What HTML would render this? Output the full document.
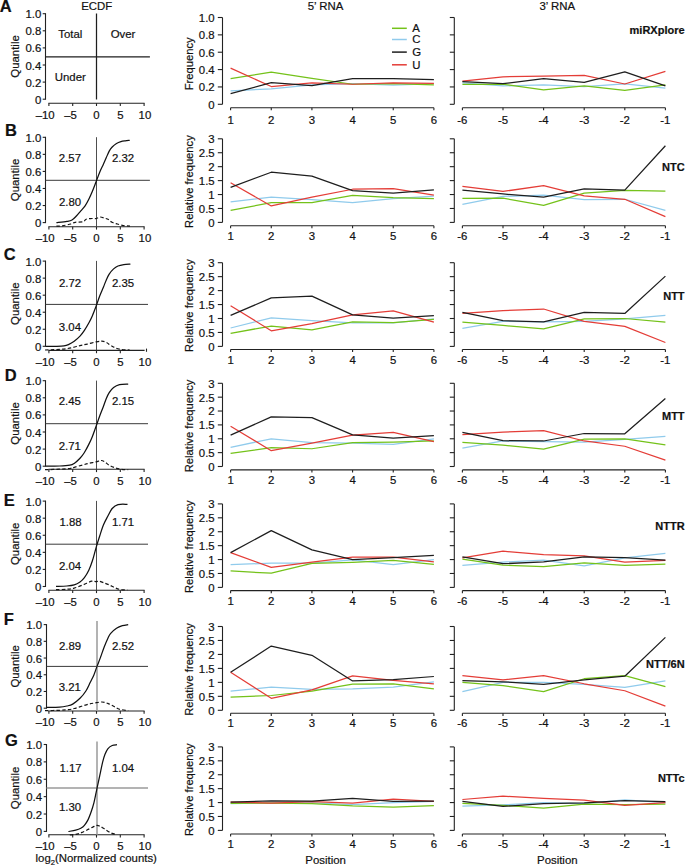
<!DOCTYPE html>
<html><head><meta charset="utf-8"><style>
html,body{margin:0;padding:0;background:#fff;}
svg{display:block;}
text{font-family:"Liberation Sans", sans-serif;fill:#111;stroke:#111;stroke-width:0.2px;}
</style></head><body>
<svg width="685" height="866" viewBox="0 0 685 866">
<rect width="685" height="866" fill="#fff"/>
<line x1="45.50" y1="13.20" x2="45.50" y2="99.70" stroke="#222222" stroke-width="1.1" />
<line x1="42.70" y1="99.20" x2="45.50" y2="99.20" stroke="#222222" stroke-width="1.1" />
<text x="41.30" y="103.70" font-size="11.4" text-anchor="end" font-weight="normal" >0</text>
<line x1="42.70" y1="82.10" x2="45.50" y2="82.10" stroke="#222222" stroke-width="1.1" />
<text x="41.30" y="86.60" font-size="11.4" text-anchor="end" font-weight="normal" >0.2</text>
<line x1="42.70" y1="65.00" x2="45.50" y2="65.00" stroke="#222222" stroke-width="1.1" />
<text x="41.30" y="69.50" font-size="11.4" text-anchor="end" font-weight="normal" >0.4</text>
<line x1="42.70" y1="47.90" x2="45.50" y2="47.90" stroke="#222222" stroke-width="1.1" />
<text x="41.30" y="52.40" font-size="11.4" text-anchor="end" font-weight="normal" >0.6</text>
<line x1="42.70" y1="30.80" x2="45.50" y2="30.80" stroke="#222222" stroke-width="1.1" />
<text x="41.30" y="35.30" font-size="11.4" text-anchor="end" font-weight="normal" >0.8</text>
<line x1="42.70" y1="13.70" x2="45.50" y2="13.70" stroke="#222222" stroke-width="1.1" />
<text x="41.30" y="18.20" font-size="11.4" text-anchor="end" font-weight="normal" >1.0</text>
<line x1="48.40" y1="103.20" x2="144.60" y2="103.20" stroke="#222222" stroke-width="1.1" />
<line x1="48.90" y1="103.20" x2="48.90" y2="106.00" stroke="#222222" stroke-width="1.1" />
<text x="54.70" y="119.10" font-size="11.4" text-anchor="end" font-weight="normal" >&#8211;10</text>
<line x1="72.70" y1="103.20" x2="72.70" y2="106.00" stroke="#222222" stroke-width="1.1" />
<text x="76.90" y="119.10" font-size="11.4" text-anchor="end" font-weight="normal" >&#8211;5</text>
<line x1="96.50" y1="103.20" x2="96.50" y2="106.00" stroke="#222222" stroke-width="1.1" />
<text x="96.50" y="119.10" font-size="11.4" text-anchor="middle" font-weight="normal" >0</text>
<line x1="120.30" y1="103.20" x2="120.30" y2="106.00" stroke="#222222" stroke-width="1.1" />
<text x="120.30" y="119.10" font-size="11.4" text-anchor="middle" font-weight="normal" >5</text>
<line x1="144.10" y1="103.20" x2="144.10" y2="106.00" stroke="#222222" stroke-width="1.1" />
<text x="144.90" y="119.10" font-size="11.4" text-anchor="middle" font-weight="normal" >10</text>
<text x="0.00" y="0.00" font-size="11.4" text-anchor="middle" font-weight="normal" transform="translate(19.2,56.45) rotate(-90)">Quantile</text>
<line x1="45.50" y1="56.90" x2="149.90" y2="56.90" stroke="#1e1e1e" stroke-width="1.3" />
<line x1="96.50" y1="13.50" x2="96.50" y2="99.50" stroke="#1e1e1e" stroke-width="1.25" />
<text x="70.30" y="38.00" font-size="11.4" text-anchor="middle" font-weight="normal" >Total</text>
<text x="123.00" y="38.00" font-size="11.4" text-anchor="middle" font-weight="normal" >Over</text>
<text x="70.30" y="81.20" font-size="11.4" text-anchor="middle" font-weight="normal" >Under</text>
<text x="-0.20" y="11.80" font-size="16.5" text-anchor="start" font-weight="bold" >A</text>
<line x1="222.50" y1="17.50" x2="222.50" y2="104.30" stroke="#222222" stroke-width="1.1" />
<line x1="217.80" y1="104.30" x2="222.50" y2="104.30" stroke="#222222" stroke-width="1.1" />
<text x="214.70" y="108.70" font-size="11.4" text-anchor="end" font-weight="normal" >0</text>
<line x1="217.80" y1="86.94" x2="222.50" y2="86.94" stroke="#222222" stroke-width="1.1" />
<text x="214.70" y="91.34" font-size="11.4" text-anchor="end" font-weight="normal" >0.2</text>
<line x1="217.80" y1="69.58" x2="222.50" y2="69.58" stroke="#222222" stroke-width="1.1" />
<text x="214.70" y="73.98" font-size="11.4" text-anchor="end" font-weight="normal" >0.4</text>
<line x1="217.80" y1="52.22" x2="222.50" y2="52.22" stroke="#222222" stroke-width="1.1" />
<text x="214.70" y="56.62" font-size="11.4" text-anchor="end" font-weight="normal" >0.6</text>
<line x1="217.80" y1="34.86" x2="222.50" y2="34.86" stroke="#222222" stroke-width="1.1" />
<text x="214.70" y="39.26" font-size="11.4" text-anchor="end" font-weight="normal" >0.8</text>
<line x1="217.80" y1="17.50" x2="222.50" y2="17.50" stroke="#222222" stroke-width="1.1" />
<text x="214.70" y="21.90" font-size="11.4" text-anchor="end" font-weight="normal" >1.0</text>
<line x1="230.60" y1="107.70" x2="433.90" y2="107.70" stroke="#222222" stroke-width="1.1" />
<line x1="230.60" y1="107.70" x2="230.60" y2="110.30" stroke="#222222" stroke-width="1.1" />
<text x="230.60" y="123.80" font-size="11.4" text-anchor="middle" font-weight="normal" >1</text>
<line x1="271.26" y1="107.70" x2="271.26" y2="110.30" stroke="#222222" stroke-width="1.1" />
<text x="271.26" y="123.80" font-size="11.4" text-anchor="middle" font-weight="normal" >2</text>
<line x1="311.92" y1="107.70" x2="311.92" y2="110.30" stroke="#222222" stroke-width="1.1" />
<text x="311.92" y="123.80" font-size="11.4" text-anchor="middle" font-weight="normal" >3</text>
<line x1="352.58" y1="107.70" x2="352.58" y2="110.30" stroke="#222222" stroke-width="1.1" />
<text x="352.58" y="123.80" font-size="11.4" text-anchor="middle" font-weight="normal" >4</text>
<line x1="393.24" y1="107.70" x2="393.24" y2="110.30" stroke="#222222" stroke-width="1.1" />
<text x="393.24" y="123.80" font-size="11.4" text-anchor="middle" font-weight="normal" >5</text>
<line x1="433.90" y1="107.70" x2="433.90" y2="110.30" stroke="#222222" stroke-width="1.1" />
<text x="433.90" y="123.80" font-size="11.4" text-anchor="middle" font-weight="normal" >6</text>
<text x="0.00" y="0.00" font-size="11.2" text-anchor="middle" font-weight="normal" transform="translate(192.9,63.80) rotate(-90)">Frequency</text>
<path d="M230.60,90.76 L271.26,88.85 L311.92,84.86 L352.58,83.64 L393.24,85.20 L433.90,83.64" fill="none" stroke="#90cbec" stroke-width="1.25" stroke-linejoin="round" />
<path d="M230.60,78.69 L271.26,72.01 L311.92,78.26 L352.58,84.25 L393.24,83.64 L433.90,84.86" fill="none" stroke="#74c21a" stroke-width="1.25" stroke-linejoin="round" />
<path d="M230.60,68.10 L271.26,86.51 L311.92,82.95 L352.58,84.25 L393.24,82.95 L433.90,83.47" fill="none" stroke="#e43d37" stroke-width="1.25" stroke-linejoin="round" />
<path d="M230.60,93.71 L271.26,82.69 L311.92,85.55 L352.58,78.69 L393.24,78.69 L433.90,79.74" fill="none" stroke="#1e1e1e" stroke-width="1.25" stroke-linejoin="round" />
<line x1="454.30" y1="17.50" x2="454.30" y2="104.30" stroke="#222222" stroke-width="1.1" />
<line x1="449.80" y1="104.30" x2="454.30" y2="104.30" stroke="#222222" stroke-width="1.1" />
<line x1="449.80" y1="86.94" x2="454.30" y2="86.94" stroke="#222222" stroke-width="1.1" />
<line x1="449.80" y1="69.58" x2="454.30" y2="69.58" stroke="#222222" stroke-width="1.1" />
<line x1="449.80" y1="52.22" x2="454.30" y2="52.22" stroke="#222222" stroke-width="1.1" />
<line x1="449.80" y1="34.86" x2="454.30" y2="34.86" stroke="#222222" stroke-width="1.1" />
<line x1="449.80" y1="17.50" x2="454.30" y2="17.50" stroke="#222222" stroke-width="1.1" />
<line x1="462.40" y1="107.70" x2="665.40" y2="107.70" stroke="#222222" stroke-width="1.1" />
<line x1="462.40" y1="107.70" x2="462.40" y2="110.30" stroke="#222222" stroke-width="1.1" />
<text x="462.40" y="123.80" font-size="11.4" text-anchor="middle" font-weight="normal" >-6</text>
<line x1="503.00" y1="107.70" x2="503.00" y2="110.30" stroke="#222222" stroke-width="1.1" />
<text x="503.00" y="123.80" font-size="11.4" text-anchor="middle" font-weight="normal" >-5</text>
<line x1="543.60" y1="107.70" x2="543.60" y2="110.30" stroke="#222222" stroke-width="1.1" />
<text x="543.60" y="123.80" font-size="11.4" text-anchor="middle" font-weight="normal" >-4</text>
<line x1="584.20" y1="107.70" x2="584.20" y2="110.30" stroke="#222222" stroke-width="1.1" />
<text x="584.20" y="123.80" font-size="11.4" text-anchor="middle" font-weight="normal" >-3</text>
<line x1="624.80" y1="107.70" x2="624.80" y2="110.30" stroke="#222222" stroke-width="1.1" />
<text x="624.80" y="123.80" font-size="11.4" text-anchor="middle" font-weight="normal" >-2</text>
<line x1="665.40" y1="107.70" x2="665.40" y2="110.30" stroke="#222222" stroke-width="1.1" />
<text x="665.40" y="123.80" font-size="11.4" text-anchor="middle" font-weight="normal" >-1</text>
<path d="M462.40,82.95 L503.00,85.90 L543.60,84.86 L584.20,86.51 L624.80,83.99 L665.40,88.16" fill="none" stroke="#90cbec" stroke-width="1.25" stroke-linejoin="round" />
<path d="M462.40,84.25 L503.00,84.25 L543.60,89.80 L584.20,85.90 L624.80,90.41 L665.40,84.86" fill="none" stroke="#74c21a" stroke-width="1.25" stroke-linejoin="round" />
<path d="M462.40,81.04 L503.00,76.78 L543.60,76.18 L584.20,75.48 L624.80,83.99 L665.40,71.32" fill="none" stroke="#e43d37" stroke-width="1.25" stroke-linejoin="round" />
<path d="M462.40,81.65 L503.00,83.64 L543.60,78.69 L584.20,82.34 L624.80,71.92 L665.40,85.90" fill="none" stroke="#1e1e1e" stroke-width="1.25" stroke-linejoin="round" />
<text x="684.60" y="33.80" font-size="11" text-anchor="end" font-weight="bold" >miRXplore</text>
<line x1="45.50" y1="136.80" x2="45.50" y2="223.10" stroke="#222222" stroke-width="1.1" />
<line x1="42.70" y1="222.60" x2="45.50" y2="222.60" stroke="#222222" stroke-width="1.1" />
<text x="41.30" y="227.10" font-size="11.4" text-anchor="end" font-weight="normal" >0</text>
<line x1="42.70" y1="205.54" x2="45.50" y2="205.54" stroke="#222222" stroke-width="1.1" />
<text x="41.30" y="210.04" font-size="11.4" text-anchor="end" font-weight="normal" >0.2</text>
<line x1="42.70" y1="188.48" x2="45.50" y2="188.48" stroke="#222222" stroke-width="1.1" />
<text x="41.30" y="192.98" font-size="11.4" text-anchor="end" font-weight="normal" >0.4</text>
<line x1="42.70" y1="171.42" x2="45.50" y2="171.42" stroke="#222222" stroke-width="1.1" />
<text x="41.30" y="175.92" font-size="11.4" text-anchor="end" font-weight="normal" >0.6</text>
<line x1="42.70" y1="154.36" x2="45.50" y2="154.36" stroke="#222222" stroke-width="1.1" />
<text x="41.30" y="158.86" font-size="11.4" text-anchor="end" font-weight="normal" >0.8</text>
<line x1="42.70" y1="137.30" x2="45.50" y2="137.30" stroke="#222222" stroke-width="1.1" />
<text x="41.30" y="141.80" font-size="11.4" text-anchor="end" font-weight="normal" >1.0</text>
<line x1="48.40" y1="226.80" x2="144.60" y2="226.80" stroke="#222222" stroke-width="1.1" />
<line x1="48.90" y1="226.80" x2="48.90" y2="229.60" stroke="#222222" stroke-width="1.1" />
<text x="54.70" y="242.20" font-size="11.4" text-anchor="end" font-weight="normal" >&#8211;10</text>
<line x1="72.70" y1="226.80" x2="72.70" y2="229.60" stroke="#222222" stroke-width="1.1" />
<text x="76.90" y="242.20" font-size="11.4" text-anchor="end" font-weight="normal" >&#8211;5</text>
<line x1="96.50" y1="226.80" x2="96.50" y2="229.60" stroke="#222222" stroke-width="1.1" />
<text x="96.50" y="242.20" font-size="11.4" text-anchor="middle" font-weight="normal" >0</text>
<line x1="120.30" y1="226.80" x2="120.30" y2="229.60" stroke="#222222" stroke-width="1.1" />
<text x="120.30" y="242.20" font-size="11.4" text-anchor="middle" font-weight="normal" >5</text>
<line x1="144.10" y1="226.80" x2="144.10" y2="229.60" stroke="#222222" stroke-width="1.1" />
<text x="144.90" y="242.20" font-size="11.4" text-anchor="middle" font-weight="normal" >10</text>
<text x="0.00" y="0.00" font-size="11.4" text-anchor="middle" font-weight="normal" transform="translate(19.2,179.95) rotate(-90)">Quantile</text>
<line x1="45.50" y1="180.30" x2="149.90" y2="180.30" stroke="#3a3a3a" stroke-width="1.0" />
<line x1="96.50" y1="137.20" x2="96.50" y2="226.80" stroke="#3a3a3a" stroke-width="0.9" />
<text x="69.90" y="162.10" font-size="11.4" text-anchor="middle" font-weight="normal" >2.57</text>
<text x="123.00" y="162.10" font-size="11.4" text-anchor="middle" font-weight="normal" >2.32</text>
<text x="70.00" y="205.70" font-size="11.4" text-anchor="middle" font-weight="normal" >2.80</text>
<path d="M56.40,222.60 C58.15,222.40 64.30,221.83 66.90,221.40 C69.50,220.97 70.42,220.90 72.00,220.00 C73.58,219.10 74.93,217.52 76.40,216.00 C77.87,214.48 79.35,212.60 80.80,210.90 C82.25,209.20 83.77,207.75 85.10,205.80 C86.43,203.85 87.58,201.63 88.80,199.20 C90.02,196.77 91.18,194.12 92.40,191.20 C93.62,188.28 94.88,184.87 96.10,181.70 C97.32,178.53 98.48,175.12 99.70,172.20 C100.92,169.28 102.30,166.63 103.40,164.20 C104.50,161.77 105.33,159.78 106.30,157.60 C107.27,155.42 108.22,152.87 109.20,151.10 C110.18,149.33 110.98,148.27 112.20,147.00 C113.42,145.73 115.05,144.40 116.50,143.50 C117.95,142.60 119.43,142.05 120.90,141.60 C122.37,141.15 123.83,141.00 125.30,140.80 C126.77,140.60 128.97,140.47 129.70,140.40" fill="none" stroke="#111" stroke-width="1.25"/>
<path d="M56.40,226.20 C57.42,226.13 60.08,226.17 62.50,225.80 C64.92,225.43 68.77,224.58 70.90,224.00 C73.03,223.42 73.27,222.67 75.30,222.30 C77.33,221.93 81.28,222.32 83.10,221.80 C84.92,221.28 84.73,219.75 86.20,219.20 C87.67,218.65 90.22,218.62 91.90,218.50 C93.58,218.38 94.92,218.75 96.30,218.50 C97.68,218.25 98.75,217.03 100.20,217.00 C101.65,216.97 103.62,217.87 105.00,218.30 C106.38,218.73 107.33,218.93 108.50,219.60 C109.67,220.27 110.53,221.57 112.00,222.30 C113.47,223.03 115.55,223.50 117.30,224.00 C119.05,224.50 120.38,224.93 122.50,225.30 C124.62,225.67 128.75,226.05 130.00,226.20" fill="none" stroke="#151515" stroke-width="1.2" stroke-dasharray="3.5,2.2"/>
<text x="4.90" y="136.30" font-size="16.5" text-anchor="start" font-weight="bold" >B</text>
<line x1="222.50" y1="138.80" x2="222.50" y2="222.40" stroke="#222222" stroke-width="1.1" />
<line x1="217.80" y1="222.40" x2="222.50" y2="222.40" stroke="#222222" stroke-width="1.1" />
<text x="214.70" y="226.80" font-size="11.4" text-anchor="end" font-weight="normal" >0</text>
<line x1="217.80" y1="208.47" x2="222.50" y2="208.47" stroke="#222222" stroke-width="1.1" />
<text x="214.70" y="212.87" font-size="11.4" text-anchor="end" font-weight="normal" >0.5</text>
<line x1="217.80" y1="194.53" x2="222.50" y2="194.53" stroke="#222222" stroke-width="1.1" />
<text x="214.70" y="198.93" font-size="11.4" text-anchor="end" font-weight="normal" >1</text>
<line x1="217.80" y1="180.60" x2="222.50" y2="180.60" stroke="#222222" stroke-width="1.1" />
<text x="214.70" y="185.00" font-size="11.4" text-anchor="end" font-weight="normal" >1.5</text>
<line x1="217.80" y1="166.67" x2="222.50" y2="166.67" stroke="#222222" stroke-width="1.1" />
<text x="214.70" y="171.07" font-size="11.4" text-anchor="end" font-weight="normal" >2</text>
<line x1="217.80" y1="152.73" x2="222.50" y2="152.73" stroke="#222222" stroke-width="1.1" />
<text x="214.70" y="157.13" font-size="11.4" text-anchor="end" font-weight="normal" >2.5</text>
<line x1="217.80" y1="138.80" x2="222.50" y2="138.80" stroke="#222222" stroke-width="1.1" />
<text x="214.70" y="143.20" font-size="11.4" text-anchor="end" font-weight="normal" >3</text>
<line x1="230.60" y1="225.70" x2="433.90" y2="225.70" stroke="#222222" stroke-width="1.1" />
<line x1="230.60" y1="225.70" x2="230.60" y2="228.30" stroke="#222222" stroke-width="1.1" />
<text x="230.60" y="239.80" font-size="11.4" text-anchor="middle" font-weight="normal" >1</text>
<line x1="271.26" y1="225.70" x2="271.26" y2="228.30" stroke="#222222" stroke-width="1.1" />
<text x="271.26" y="239.80" font-size="11.4" text-anchor="middle" font-weight="normal" >2</text>
<line x1="311.92" y1="225.70" x2="311.92" y2="228.30" stroke="#222222" stroke-width="1.1" />
<text x="311.92" y="239.80" font-size="11.4" text-anchor="middle" font-weight="normal" >3</text>
<line x1="352.58" y1="225.70" x2="352.58" y2="228.30" stroke="#222222" stroke-width="1.1" />
<text x="352.58" y="239.80" font-size="11.4" text-anchor="middle" font-weight="normal" >4</text>
<line x1="393.24" y1="225.70" x2="393.24" y2="228.30" stroke="#222222" stroke-width="1.1" />
<text x="393.24" y="239.80" font-size="11.4" text-anchor="middle" font-weight="normal" >5</text>
<line x1="433.90" y1="225.70" x2="433.90" y2="228.30" stroke="#222222" stroke-width="1.1" />
<text x="433.90" y="239.80" font-size="11.4" text-anchor="middle" font-weight="normal" >6</text>
<text x="0.00" y="0.00" font-size="11.2" text-anchor="middle" font-weight="normal" transform="translate(192.9,181.60) rotate(-90)">Relative frequency</text>
<path d="M230.60,201.78 L271.26,197.04 L311.92,199.55 L352.58,202.61 L393.24,198.71 L433.90,196.21" fill="none" stroke="#90cbec" stroke-width="1.25" stroke-linejoin="round" />
<path d="M230.60,210.42 L271.26,202.61 L311.92,202.61 L352.58,195.37 L393.24,197.60 L433.90,198.71" fill="none" stroke="#74c21a" stroke-width="1.25" stroke-linejoin="round" />
<path d="M230.60,182.83 L271.26,205.96 L311.92,197.04 L352.58,189.24 L393.24,188.68 L433.90,195.09" fill="none" stroke="#e43d37" stroke-width="1.25" stroke-linejoin="round" />
<path d="M230.60,187.29 L271.26,172.24 L311.92,176.14 L352.58,190.63 L393.24,193.14 L433.90,189.80" fill="none" stroke="#1e1e1e" stroke-width="1.25" stroke-linejoin="round" />
<line x1="454.30" y1="138.80" x2="454.30" y2="222.40" stroke="#222222" stroke-width="1.1" />
<line x1="449.80" y1="222.40" x2="454.30" y2="222.40" stroke="#222222" stroke-width="1.1" />
<line x1="449.80" y1="208.47" x2="454.30" y2="208.47" stroke="#222222" stroke-width="1.1" />
<line x1="449.80" y1="194.53" x2="454.30" y2="194.53" stroke="#222222" stroke-width="1.1" />
<line x1="449.80" y1="180.60" x2="454.30" y2="180.60" stroke="#222222" stroke-width="1.1" />
<line x1="449.80" y1="166.67" x2="454.30" y2="166.67" stroke="#222222" stroke-width="1.1" />
<line x1="449.80" y1="152.73" x2="454.30" y2="152.73" stroke="#222222" stroke-width="1.1" />
<line x1="449.80" y1="138.80" x2="454.30" y2="138.80" stroke="#222222" stroke-width="1.1" />
<line x1="462.40" y1="225.70" x2="665.40" y2="225.70" stroke="#222222" stroke-width="1.1" />
<line x1="462.40" y1="225.70" x2="462.40" y2="228.30" stroke="#222222" stroke-width="1.1" />
<text x="462.40" y="239.80" font-size="11.4" text-anchor="middle" font-weight="normal" >-6</text>
<line x1="503.00" y1="225.70" x2="503.00" y2="228.30" stroke="#222222" stroke-width="1.1" />
<text x="503.00" y="239.80" font-size="11.4" text-anchor="middle" font-weight="normal" >-5</text>
<line x1="543.60" y1="225.70" x2="543.60" y2="228.30" stroke="#222222" stroke-width="1.1" />
<text x="543.60" y="239.80" font-size="11.4" text-anchor="middle" font-weight="normal" >-4</text>
<line x1="584.20" y1="225.70" x2="584.20" y2="228.30" stroke="#222222" stroke-width="1.1" />
<text x="584.20" y="239.80" font-size="11.4" text-anchor="middle" font-weight="normal" >-3</text>
<line x1="624.80" y1="225.70" x2="624.80" y2="228.30" stroke="#222222" stroke-width="1.1" />
<text x="624.80" y="239.80" font-size="11.4" text-anchor="middle" font-weight="normal" >-2</text>
<line x1="665.40" y1="225.70" x2="665.40" y2="228.30" stroke="#222222" stroke-width="1.1" />
<text x="665.40" y="239.80" font-size="11.4" text-anchor="middle" font-weight="normal" >-1</text>
<path d="M462.40,204.29 L503.00,196.48 L543.60,195.09 L584.20,199.55 L624.80,199.27 L665.40,210.42" fill="none" stroke="#90cbec" stroke-width="1.25" stroke-linejoin="round" />
<path d="M462.40,198.43 L503.00,198.16 L543.60,205.40 L584.20,193.14 L624.80,190.35 L665.40,191.19" fill="none" stroke="#74c21a" stroke-width="1.25" stroke-linejoin="round" />
<path d="M462.40,186.45 L503.00,191.47 L543.60,185.62 L584.20,195.93 L624.80,199.27 L665.40,216.55" fill="none" stroke="#e43d37" stroke-width="1.25" stroke-linejoin="round" />
<path d="M462.40,190.07 L503.00,193.98 L543.60,197.04 L584.20,188.96 L624.80,190.07 L665.40,145.77" fill="none" stroke="#1e1e1e" stroke-width="1.25" stroke-linejoin="round" />
<text x="684.60" y="170.50" font-size="11" text-anchor="end" font-weight="bold" >NTC</text>
<line x1="45.50" y1="260.60" x2="45.50" y2="346.80" stroke="#222222" stroke-width="1.1" />
<line x1="42.70" y1="346.30" x2="45.50" y2="346.30" stroke="#222222" stroke-width="1.1" />
<text x="41.30" y="350.80" font-size="11.4" text-anchor="end" font-weight="normal" >0</text>
<line x1="42.70" y1="329.26" x2="45.50" y2="329.26" stroke="#222222" stroke-width="1.1" />
<text x="41.30" y="333.76" font-size="11.4" text-anchor="end" font-weight="normal" >0.2</text>
<line x1="42.70" y1="312.22" x2="45.50" y2="312.22" stroke="#222222" stroke-width="1.1" />
<text x="41.30" y="316.72" font-size="11.4" text-anchor="end" font-weight="normal" >0.4</text>
<line x1="42.70" y1="295.18" x2="45.50" y2="295.18" stroke="#222222" stroke-width="1.1" />
<text x="41.30" y="299.68" font-size="11.4" text-anchor="end" font-weight="normal" >0.6</text>
<line x1="42.70" y1="278.14" x2="45.50" y2="278.14" stroke="#222222" stroke-width="1.1" />
<text x="41.30" y="282.64" font-size="11.4" text-anchor="end" font-weight="normal" >0.8</text>
<line x1="42.70" y1="261.10" x2="45.50" y2="261.10" stroke="#222222" stroke-width="1.1" />
<text x="41.30" y="265.60" font-size="11.4" text-anchor="end" font-weight="normal" >1.0</text>
<line x1="48.40" y1="350.40" x2="144.60" y2="350.40" stroke="#222222" stroke-width="1.1" />
<line x1="146.50" y1="348.60" x2="146.50" y2="351.80" stroke="#222222" stroke-width="1.1" />
<line x1="48.90" y1="350.40" x2="48.90" y2="353.20" stroke="#222222" stroke-width="1.1" />
<text x="54.70" y="365.80" font-size="11.4" text-anchor="end" font-weight="normal" >&#8211;10</text>
<line x1="72.70" y1="350.40" x2="72.70" y2="353.20" stroke="#222222" stroke-width="1.1" />
<text x="76.90" y="365.80" font-size="11.4" text-anchor="end" font-weight="normal" >&#8211;5</text>
<line x1="96.50" y1="350.40" x2="96.50" y2="353.20" stroke="#222222" stroke-width="1.1" />
<text x="96.50" y="365.80" font-size="11.4" text-anchor="middle" font-weight="normal" >0</text>
<line x1="120.30" y1="350.40" x2="120.30" y2="353.20" stroke="#222222" stroke-width="1.1" />
<text x="120.30" y="365.80" font-size="11.4" text-anchor="middle" font-weight="normal" >5</text>
<text x="144.90" y="365.80" font-size="11.4" text-anchor="middle" font-weight="normal" >10</text>
<text x="0.00" y="0.00" font-size="11.4" text-anchor="middle" font-weight="normal" transform="translate(19.2,303.70) rotate(-90)">Quantile</text>
<line x1="45.50" y1="304.40" x2="148.00" y2="304.40" stroke="#3a3a3a" stroke-width="1.0" />
<line x1="96.50" y1="260.90" x2="96.50" y2="350.40" stroke="#3a3a3a" stroke-width="0.9" />
<text x="70.00" y="287.00" font-size="11.4" text-anchor="middle" font-weight="normal" >2.72</text>
<text x="123.00" y="287.00" font-size="11.4" text-anchor="middle" font-weight="normal" >2.35</text>
<text x="69.90" y="331.40" font-size="11.4" text-anchor="middle" font-weight="normal" >3.04</text>
<path d="M45.70,346.30 C47.53,346.30 53.65,346.37 56.70,346.30 C59.75,346.23 62.05,346.18 64.00,345.90 C65.95,345.62 66.70,345.38 68.40,344.60 C70.10,343.82 72.27,342.62 74.20,341.20 C76.13,339.78 78.30,337.92 80.00,336.10 C81.70,334.28 82.93,332.48 84.40,330.30 C85.87,328.12 87.47,325.43 88.80,323.00 C90.13,320.57 91.18,318.50 92.40,315.70 C93.62,312.90 94.88,309.48 96.10,306.20 C97.32,302.92 98.48,299.17 99.70,296.00 C100.92,292.83 102.30,289.88 103.40,287.20 C104.50,284.52 105.33,282.08 106.30,279.90 C107.27,277.72 107.98,275.93 109.20,274.10 C110.42,272.27 112.13,270.25 113.60,268.90 C115.07,267.55 116.30,266.72 118.00,266.00 C119.70,265.28 121.73,264.92 123.80,264.60 C125.87,264.28 129.30,264.18 130.40,264.10" fill="none" stroke="#111" stroke-width="1.25"/>
<path d="M45.00,350.00 C46.47,349.95 50.88,349.83 53.80,349.70 C56.72,349.57 59.58,349.52 62.50,349.20 C65.42,348.88 68.38,348.40 71.30,347.80 C74.22,347.20 77.33,346.22 80.00,345.60 C82.67,344.98 84.62,344.72 87.30,344.10 C89.98,343.48 93.67,342.38 96.10,341.90 C98.53,341.42 100.20,341.12 101.90,341.20 C103.60,341.28 104.58,341.55 106.30,342.40 C108.02,343.25 110.00,345.17 112.20,346.30 C114.40,347.43 116.58,348.58 119.50,349.20 C122.42,349.82 128.00,349.87 129.70,350.00" fill="none" stroke="#151515" stroke-width="1.2" stroke-dasharray="3.5,2.2"/>
<text x="3.80" y="259.60" font-size="16.5" text-anchor="start" font-weight="bold" >C</text>
<line x1="222.50" y1="262.70" x2="222.50" y2="346.40" stroke="#222222" stroke-width="1.1" />
<line x1="217.80" y1="346.40" x2="222.50" y2="346.40" stroke="#222222" stroke-width="1.1" />
<text x="214.70" y="350.80" font-size="11.4" text-anchor="end" font-weight="normal" >0</text>
<line x1="217.80" y1="332.45" x2="222.50" y2="332.45" stroke="#222222" stroke-width="1.1" />
<text x="214.70" y="336.85" font-size="11.4" text-anchor="end" font-weight="normal" >0.5</text>
<line x1="217.80" y1="318.50" x2="222.50" y2="318.50" stroke="#222222" stroke-width="1.1" />
<text x="214.70" y="322.90" font-size="11.4" text-anchor="end" font-weight="normal" >1</text>
<line x1="217.80" y1="304.55" x2="222.50" y2="304.55" stroke="#222222" stroke-width="1.1" />
<text x="214.70" y="308.95" font-size="11.4" text-anchor="end" font-weight="normal" >1.5</text>
<line x1="217.80" y1="290.60" x2="222.50" y2="290.60" stroke="#222222" stroke-width="1.1" />
<text x="214.70" y="295.00" font-size="11.4" text-anchor="end" font-weight="normal" >2</text>
<line x1="217.80" y1="276.65" x2="222.50" y2="276.65" stroke="#222222" stroke-width="1.1" />
<text x="214.70" y="281.05" font-size="11.4" text-anchor="end" font-weight="normal" >2.5</text>
<line x1="217.80" y1="262.70" x2="222.50" y2="262.70" stroke="#222222" stroke-width="1.1" />
<text x="214.70" y="267.10" font-size="11.4" text-anchor="end" font-weight="normal" >3</text>
<line x1="230.60" y1="349.50" x2="433.90" y2="349.50" stroke="#222222" stroke-width="1.1" />
<line x1="230.60" y1="349.50" x2="230.60" y2="352.10" stroke="#222222" stroke-width="1.1" />
<text x="230.60" y="363.60" font-size="11.4" text-anchor="middle" font-weight="normal" >1</text>
<line x1="271.26" y1="349.50" x2="271.26" y2="352.10" stroke="#222222" stroke-width="1.1" />
<text x="271.26" y="363.60" font-size="11.4" text-anchor="middle" font-weight="normal" >2</text>
<line x1="311.92" y1="349.50" x2="311.92" y2="352.10" stroke="#222222" stroke-width="1.1" />
<text x="311.92" y="363.60" font-size="11.4" text-anchor="middle" font-weight="normal" >3</text>
<line x1="352.58" y1="349.50" x2="352.58" y2="352.10" stroke="#222222" stroke-width="1.1" />
<text x="352.58" y="363.60" font-size="11.4" text-anchor="middle" font-weight="normal" >4</text>
<line x1="393.24" y1="349.50" x2="393.24" y2="352.10" stroke="#222222" stroke-width="1.1" />
<text x="393.24" y="363.60" font-size="11.4" text-anchor="middle" font-weight="normal" >5</text>
<line x1="433.90" y1="349.50" x2="433.90" y2="352.10" stroke="#222222" stroke-width="1.1" />
<text x="433.90" y="363.60" font-size="11.4" text-anchor="middle" font-weight="normal" >6</text>
<text x="0.00" y="0.00" font-size="11.2" text-anchor="middle" font-weight="normal" transform="translate(192.9,305.55) rotate(-90)">Relative frequency</text>
<path d="M230.60,327.99 L271.26,317.94 L311.92,320.73 L352.58,322.96 L393.24,322.96 L433.90,318.78" fill="none" stroke="#90cbec" stroke-width="1.25" stroke-linejoin="round" />
<path d="M230.60,333.29 L271.26,326.03 L311.92,329.94 L352.58,321.85 L393.24,322.69 L433.90,319.34" fill="none" stroke="#74c21a" stroke-width="1.25" stroke-linejoin="round" />
<path d="M230.60,305.67 L271.26,330.78 L311.92,323.52 L352.58,314.87 L393.24,310.97 L433.90,322.13" fill="none" stroke="#e43d37" stroke-width="1.25" stroke-linejoin="round" />
<path d="M230.60,315.43 L271.26,297.85 L311.92,296.18 L352.58,314.87 L393.24,318.22 L433.90,315.71" fill="none" stroke="#1e1e1e" stroke-width="1.25" stroke-linejoin="round" />
<line x1="454.30" y1="262.70" x2="454.30" y2="346.40" stroke="#222222" stroke-width="1.1" />
<line x1="449.80" y1="346.40" x2="454.30" y2="346.40" stroke="#222222" stroke-width="1.1" />
<line x1="449.80" y1="332.45" x2="454.30" y2="332.45" stroke="#222222" stroke-width="1.1" />
<line x1="449.80" y1="318.50" x2="454.30" y2="318.50" stroke="#222222" stroke-width="1.1" />
<line x1="449.80" y1="304.55" x2="454.30" y2="304.55" stroke="#222222" stroke-width="1.1" />
<line x1="449.80" y1="290.60" x2="454.30" y2="290.60" stroke="#222222" stroke-width="1.1" />
<line x1="449.80" y1="276.65" x2="454.30" y2="276.65" stroke="#222222" stroke-width="1.1" />
<line x1="449.80" y1="262.70" x2="454.30" y2="262.70" stroke="#222222" stroke-width="1.1" />
<line x1="462.40" y1="349.50" x2="665.40" y2="349.50" stroke="#222222" stroke-width="1.1" />
<line x1="462.40" y1="349.50" x2="462.40" y2="352.10" stroke="#222222" stroke-width="1.1" />
<text x="462.40" y="363.60" font-size="11.4" text-anchor="middle" font-weight="normal" >-6</text>
<line x1="503.00" y1="349.50" x2="503.00" y2="352.10" stroke="#222222" stroke-width="1.1" />
<text x="503.00" y="363.60" font-size="11.4" text-anchor="middle" font-weight="normal" >-5</text>
<line x1="543.60" y1="349.50" x2="543.60" y2="352.10" stroke="#222222" stroke-width="1.1" />
<text x="543.60" y="363.60" font-size="11.4" text-anchor="middle" font-weight="normal" >-4</text>
<line x1="584.20" y1="349.50" x2="584.20" y2="352.10" stroke="#222222" stroke-width="1.1" />
<text x="584.20" y="363.60" font-size="11.4" text-anchor="middle" font-weight="normal" >-3</text>
<line x1="624.80" y1="349.50" x2="624.80" y2="352.10" stroke="#222222" stroke-width="1.1" />
<text x="624.80" y="363.60" font-size="11.4" text-anchor="middle" font-weight="normal" >-2</text>
<line x1="665.40" y1="349.50" x2="665.40" y2="352.10" stroke="#222222" stroke-width="1.1" />
<text x="665.40" y="363.60" font-size="11.4" text-anchor="middle" font-weight="normal" >-1</text>
<path d="M462.40,328.26 L503.00,321.29 L543.60,321.85 L584.20,321.29 L624.80,318.78 L665.40,315.43" fill="none" stroke="#90cbec" stroke-width="1.25" stroke-linejoin="round" />
<path d="M462.40,322.13 L503.00,325.47 L543.60,328.82 L584.20,318.78 L624.80,318.50 L665.40,322.13" fill="none" stroke="#74c21a" stroke-width="1.25" stroke-linejoin="round" />
<path d="M462.40,313.48 L503.00,310.69 L543.60,309.01 L584.20,321.29 L624.80,326.31 L665.40,342.49" fill="none" stroke="#e43d37" stroke-width="1.25" stroke-linejoin="round" />
<path d="M462.40,312.36 L503.00,320.73 L543.60,321.85 L584.20,312.36 L624.80,313.48 L665.40,276.09" fill="none" stroke="#1e1e1e" stroke-width="1.25" stroke-linejoin="round" />
<text x="684.60" y="299.50" font-size="11" text-anchor="end" font-weight="bold" >NTT</text>
<line x1="45.50" y1="380.20" x2="45.50" y2="466.70" stroke="#222222" stroke-width="1.1" />
<line x1="42.70" y1="466.20" x2="45.50" y2="466.20" stroke="#222222" stroke-width="1.1" />
<text x="41.30" y="470.70" font-size="11.4" text-anchor="end" font-weight="normal" >0</text>
<line x1="42.70" y1="449.10" x2="45.50" y2="449.10" stroke="#222222" stroke-width="1.1" />
<text x="41.30" y="453.60" font-size="11.4" text-anchor="end" font-weight="normal" >0.2</text>
<line x1="42.70" y1="432.00" x2="45.50" y2="432.00" stroke="#222222" stroke-width="1.1" />
<text x="41.30" y="436.50" font-size="11.4" text-anchor="end" font-weight="normal" >0.4</text>
<line x1="42.70" y1="414.90" x2="45.50" y2="414.90" stroke="#222222" stroke-width="1.1" />
<text x="41.30" y="419.40" font-size="11.4" text-anchor="end" font-weight="normal" >0.6</text>
<line x1="42.70" y1="397.80" x2="45.50" y2="397.80" stroke="#222222" stroke-width="1.1" />
<text x="41.30" y="402.30" font-size="11.4" text-anchor="end" font-weight="normal" >0.8</text>
<line x1="42.70" y1="380.70" x2="45.50" y2="380.70" stroke="#222222" stroke-width="1.1" />
<text x="41.30" y="385.20" font-size="11.4" text-anchor="end" font-weight="normal" >1.0</text>
<line x1="48.40" y1="469.30" x2="144.60" y2="469.30" stroke="#222222" stroke-width="1.1" />
<line x1="48.90" y1="469.30" x2="48.90" y2="472.10" stroke="#222222" stroke-width="1.1" />
<text x="54.70" y="484.70" font-size="11.4" text-anchor="end" font-weight="normal" >&#8211;10</text>
<line x1="72.70" y1="469.30" x2="72.70" y2="472.10" stroke="#222222" stroke-width="1.1" />
<text x="76.90" y="484.70" font-size="11.4" text-anchor="end" font-weight="normal" >&#8211;5</text>
<line x1="96.50" y1="469.30" x2="96.50" y2="472.10" stroke="#222222" stroke-width="1.1" />
<text x="96.50" y="484.70" font-size="11.4" text-anchor="middle" font-weight="normal" >0</text>
<line x1="120.30" y1="469.30" x2="120.30" y2="472.10" stroke="#222222" stroke-width="1.1" />
<text x="120.30" y="484.70" font-size="11.4" text-anchor="middle" font-weight="normal" >5</text>
<line x1="144.10" y1="469.30" x2="144.10" y2="472.10" stroke="#222222" stroke-width="1.1" />
<text x="144.90" y="484.70" font-size="11.4" text-anchor="middle" font-weight="normal" >10</text>
<text x="0.00" y="0.00" font-size="11.4" text-anchor="middle" font-weight="normal" transform="translate(19.2,423.45) rotate(-90)">Quantile</text>
<line x1="45.50" y1="423.70" x2="148.00" y2="423.70" stroke="#3a3a3a" stroke-width="1.0" />
<line x1="96.50" y1="380.60" x2="96.50" y2="469.30" stroke="#3a3a3a" stroke-width="0.9" />
<text x="69.80" y="405.30" font-size="11.4" text-anchor="middle" font-weight="normal" >2.45</text>
<text x="123.00" y="405.30" font-size="11.4" text-anchor="middle" font-weight="normal" >2.15</text>
<text x="69.80" y="449.90" font-size="11.4" text-anchor="middle" font-weight="normal" >2.71</text>
<path d="M45.70,466.00 C48.02,466.00 55.58,466.13 59.60,466.00 C63.62,465.87 67.37,465.63 69.80,465.20 C72.23,464.77 72.50,464.55 74.20,463.40 C75.90,462.25 78.30,460.12 80.00,458.30 C81.70,456.48 82.93,454.82 84.40,452.50 C85.87,450.18 87.47,447.08 88.80,444.40 C90.13,441.72 91.18,439.43 92.40,436.40 C93.62,433.37 94.88,429.60 96.10,426.20 C97.32,422.80 98.48,419.28 99.70,416.00 C100.92,412.72 102.30,409.43 103.40,406.50 C104.50,403.57 105.33,400.72 106.30,398.40 C107.27,396.08 107.98,394.42 109.20,392.60 C110.42,390.78 111.88,388.83 113.60,387.50 C115.32,386.17 117.07,385.17 119.50,384.60 C121.93,384.03 126.75,384.18 128.20,384.10" fill="none" stroke="#111" stroke-width="1.25"/>
<path d="M45.00,469.70 C47.43,469.62 55.47,469.40 59.60,469.20 C63.73,469.00 67.37,468.82 69.80,468.50 C72.23,468.18 72.00,467.90 74.20,467.30 C76.40,466.70 80.57,465.55 83.00,464.90 C85.43,464.25 86.62,463.90 88.80,463.40 C90.98,462.90 94.03,462.38 96.10,461.90 C98.17,461.42 99.73,460.50 101.20,460.50 C102.67,460.50 103.57,461.10 104.90,461.90 C106.23,462.70 107.50,464.32 109.20,465.30 C110.90,466.28 113.15,467.15 115.10,467.80 C117.05,468.45 118.72,468.88 120.90,469.20 C123.08,469.52 126.98,469.62 128.20,469.70" fill="none" stroke="#151515" stroke-width="1.2" stroke-dasharray="3.5,2.2"/>
<text x="4.85" y="381.20" font-size="16.5" text-anchor="start" font-weight="bold" >D</text>
<line x1="222.50" y1="383.30" x2="222.50" y2="466.50" stroke="#222222" stroke-width="1.1" />
<line x1="217.80" y1="466.50" x2="222.50" y2="466.50" stroke="#222222" stroke-width="1.1" />
<text x="214.70" y="470.90" font-size="11.4" text-anchor="end" font-weight="normal" >0</text>
<line x1="217.80" y1="452.63" x2="222.50" y2="452.63" stroke="#222222" stroke-width="1.1" />
<text x="214.70" y="457.03" font-size="11.4" text-anchor="end" font-weight="normal" >0.5</text>
<line x1="217.80" y1="438.77" x2="222.50" y2="438.77" stroke="#222222" stroke-width="1.1" />
<text x="214.70" y="443.17" font-size="11.4" text-anchor="end" font-weight="normal" >1</text>
<line x1="217.80" y1="424.90" x2="222.50" y2="424.90" stroke="#222222" stroke-width="1.1" />
<text x="214.70" y="429.30" font-size="11.4" text-anchor="end" font-weight="normal" >1.5</text>
<line x1="217.80" y1="411.03" x2="222.50" y2="411.03" stroke="#222222" stroke-width="1.1" />
<text x="214.70" y="415.43" font-size="11.4" text-anchor="end" font-weight="normal" >2</text>
<line x1="217.80" y1="397.17" x2="222.50" y2="397.17" stroke="#222222" stroke-width="1.1" />
<text x="214.70" y="401.57" font-size="11.4" text-anchor="end" font-weight="normal" >2.5</text>
<line x1="217.80" y1="383.30" x2="222.50" y2="383.30" stroke="#222222" stroke-width="1.1" />
<text x="214.70" y="387.70" font-size="11.4" text-anchor="end" font-weight="normal" >3</text>
<line x1="230.60" y1="469.90" x2="433.90" y2="469.90" stroke="#222222" stroke-width="1.1" />
<line x1="230.60" y1="469.90" x2="230.60" y2="472.50" stroke="#222222" stroke-width="1.1" />
<text x="230.60" y="484.00" font-size="11.4" text-anchor="middle" font-weight="normal" >1</text>
<line x1="271.26" y1="469.90" x2="271.26" y2="472.50" stroke="#222222" stroke-width="1.1" />
<text x="271.26" y="484.00" font-size="11.4" text-anchor="middle" font-weight="normal" >2</text>
<line x1="311.92" y1="469.90" x2="311.92" y2="472.50" stroke="#222222" stroke-width="1.1" />
<text x="311.92" y="484.00" font-size="11.4" text-anchor="middle" font-weight="normal" >3</text>
<line x1="352.58" y1="469.90" x2="352.58" y2="472.50" stroke="#222222" stroke-width="1.1" />
<text x="352.58" y="484.00" font-size="11.4" text-anchor="middle" font-weight="normal" >4</text>
<line x1="393.24" y1="469.90" x2="393.24" y2="472.50" stroke="#222222" stroke-width="1.1" />
<text x="393.24" y="484.00" font-size="11.4" text-anchor="middle" font-weight="normal" >5</text>
<line x1="433.90" y1="469.90" x2="433.90" y2="472.50" stroke="#222222" stroke-width="1.1" />
<text x="433.90" y="484.00" font-size="11.4" text-anchor="middle" font-weight="normal" >6</text>
<text x="0.00" y="0.00" font-size="11.2" text-anchor="middle" font-weight="normal" transform="translate(192.9,425.90) rotate(-90)">Relative frequency</text>
<path d="M230.60,447.36 L271.26,438.77 L311.92,442.65 L352.58,443.20 L393.24,444.31 L433.90,438.77" fill="none" stroke="#90cbec" stroke-width="1.25" stroke-linejoin="round" />
<path d="M230.60,453.47 L271.26,447.64 L311.92,448.75 L352.58,442.65 L393.24,442.09 L433.90,440.99" fill="none" stroke="#74c21a" stroke-width="1.25" stroke-linejoin="round" />
<path d="M230.60,426.29 L271.26,450.69 L311.92,443.20 L352.58,435.16 L393.24,432.39 L433.90,441.54" fill="none" stroke="#e43d37" stroke-width="1.25" stroke-linejoin="round" />
<path d="M230.60,435.16 L271.26,416.86 L311.92,417.69 L352.58,434.88 L393.24,438.21 L433.90,435.72" fill="none" stroke="#1e1e1e" stroke-width="1.25" stroke-linejoin="round" />
<line x1="454.30" y1="383.30" x2="454.30" y2="466.50" stroke="#222222" stroke-width="1.1" />
<line x1="449.80" y1="466.50" x2="454.30" y2="466.50" stroke="#222222" stroke-width="1.1" />
<line x1="449.80" y1="452.63" x2="454.30" y2="452.63" stroke="#222222" stroke-width="1.1" />
<line x1="449.80" y1="438.77" x2="454.30" y2="438.77" stroke="#222222" stroke-width="1.1" />
<line x1="449.80" y1="424.90" x2="454.30" y2="424.90" stroke="#222222" stroke-width="1.1" />
<line x1="449.80" y1="411.03" x2="454.30" y2="411.03" stroke="#222222" stroke-width="1.1" />
<line x1="449.80" y1="397.17" x2="454.30" y2="397.17" stroke="#222222" stroke-width="1.1" />
<line x1="449.80" y1="383.30" x2="454.30" y2="383.30" stroke="#222222" stroke-width="1.1" />
<line x1="462.40" y1="469.90" x2="665.40" y2="469.90" stroke="#222222" stroke-width="1.1" />
<line x1="462.40" y1="469.90" x2="462.40" y2="472.50" stroke="#222222" stroke-width="1.1" />
<text x="462.40" y="484.00" font-size="11.4" text-anchor="middle" font-weight="normal" >-6</text>
<line x1="503.00" y1="469.90" x2="503.00" y2="472.50" stroke="#222222" stroke-width="1.1" />
<text x="503.00" y="484.00" font-size="11.4" text-anchor="middle" font-weight="normal" >-5</text>
<line x1="543.60" y1="469.90" x2="543.60" y2="472.50" stroke="#222222" stroke-width="1.1" />
<text x="543.60" y="484.00" font-size="11.4" text-anchor="middle" font-weight="normal" >-4</text>
<line x1="584.20" y1="469.90" x2="584.20" y2="472.50" stroke="#222222" stroke-width="1.1" />
<text x="584.20" y="484.00" font-size="11.4" text-anchor="middle" font-weight="normal" >-3</text>
<line x1="624.80" y1="469.90" x2="624.80" y2="472.50" stroke="#222222" stroke-width="1.1" />
<text x="624.80" y="484.00" font-size="11.4" text-anchor="middle" font-weight="normal" >-2</text>
<line x1="665.40" y1="469.90" x2="665.40" y2="472.50" stroke="#222222" stroke-width="1.1" />
<text x="665.40" y="484.00" font-size="11.4" text-anchor="middle" font-weight="normal" >-1</text>
<path d="M462.40,448.20 L503.00,440.99 L543.60,441.54 L584.20,442.09 L624.80,439.32 L665.40,436.27" fill="none" stroke="#90cbec" stroke-width="1.25" stroke-linejoin="round" />
<path d="M462.40,442.37 L503.00,445.15 L543.60,449.03 L584.20,439.04 L624.80,438.77 L665.40,444.87" fill="none" stroke="#74c21a" stroke-width="1.25" stroke-linejoin="round" />
<path d="M462.40,434.61 L503.00,432.11 L543.60,430.72 L584.20,440.99 L624.80,446.25 L665.40,460.12" fill="none" stroke="#e43d37" stroke-width="1.25" stroke-linejoin="round" />
<path d="M462.40,432.39 L503.00,440.71 L543.60,440.99 L584.20,433.50 L624.80,433.77 L665.40,398.55" fill="none" stroke="#1e1e1e" stroke-width="1.25" stroke-linejoin="round" />
<text x="684.60" y="420.20" font-size="11" text-anchor="end" font-weight="bold" >MTT</text>
<line x1="45.50" y1="500.60" x2="45.50" y2="587.00" stroke="#222222" stroke-width="1.1" />
<line x1="42.70" y1="586.50" x2="45.50" y2="586.50" stroke="#222222" stroke-width="1.1" />
<text x="41.30" y="591.00" font-size="11.4" text-anchor="end" font-weight="normal" >0</text>
<line x1="42.70" y1="569.42" x2="45.50" y2="569.42" stroke="#222222" stroke-width="1.1" />
<text x="41.30" y="573.92" font-size="11.4" text-anchor="end" font-weight="normal" >0.2</text>
<line x1="42.70" y1="552.34" x2="45.50" y2="552.34" stroke="#222222" stroke-width="1.1" />
<text x="41.30" y="556.84" font-size="11.4" text-anchor="end" font-weight="normal" >0.4</text>
<line x1="42.70" y1="535.26" x2="45.50" y2="535.26" stroke="#222222" stroke-width="1.1" />
<text x="41.30" y="539.76" font-size="11.4" text-anchor="end" font-weight="normal" >0.6</text>
<line x1="42.70" y1="518.18" x2="45.50" y2="518.18" stroke="#222222" stroke-width="1.1" />
<text x="41.30" y="522.68" font-size="11.4" text-anchor="end" font-weight="normal" >0.8</text>
<line x1="42.70" y1="501.10" x2="45.50" y2="501.10" stroke="#222222" stroke-width="1.1" />
<text x="41.30" y="505.60" font-size="11.4" text-anchor="end" font-weight="normal" >1.0</text>
<line x1="48.40" y1="590.30" x2="144.60" y2="590.30" stroke="#222222" stroke-width="1.1" />
<line x1="48.90" y1="590.30" x2="48.90" y2="593.10" stroke="#222222" stroke-width="1.1" />
<text x="54.70" y="605.70" font-size="11.4" text-anchor="end" font-weight="normal" >&#8211;10</text>
<line x1="72.70" y1="590.30" x2="72.70" y2="593.10" stroke="#222222" stroke-width="1.1" />
<text x="76.90" y="605.70" font-size="11.4" text-anchor="end" font-weight="normal" >&#8211;5</text>
<line x1="96.50" y1="590.30" x2="96.50" y2="593.10" stroke="#222222" stroke-width="1.1" />
<text x="96.50" y="605.70" font-size="11.4" text-anchor="middle" font-weight="normal" >0</text>
<line x1="120.30" y1="590.30" x2="120.30" y2="593.10" stroke="#222222" stroke-width="1.1" />
<text x="120.30" y="605.70" font-size="11.4" text-anchor="middle" font-weight="normal" >5</text>
<line x1="144.10" y1="590.30" x2="144.10" y2="593.10" stroke="#222222" stroke-width="1.1" />
<text x="144.90" y="605.70" font-size="11.4" text-anchor="middle" font-weight="normal" >10</text>
<text x="0.00" y="0.00" font-size="11.4" text-anchor="middle" font-weight="normal" transform="translate(19.2,543.80) rotate(-90)">Quantile</text>
<line x1="45.50" y1="544.20" x2="148.00" y2="544.20" stroke="#3a3a3a" stroke-width="1.0" />
<line x1="96.50" y1="500.90" x2="96.50" y2="590.30" stroke="#3a3a3a" stroke-width="0.9" />
<text x="70.50" y="525.50" font-size="11.4" text-anchor="middle" font-weight="normal" >1.88</text>
<text x="123.00" y="525.50" font-size="11.4" text-anchor="middle" font-weight="normal" >1.71</text>
<text x="70.00" y="570.10" font-size="11.4" text-anchor="middle" font-weight="normal" >2.04</text>
<path d="M56.00,586.30 C57.82,586.25 63.87,586.23 66.90,586.00 C69.93,585.77 72.02,585.58 74.20,584.90 C76.38,584.22 78.30,583.12 80.00,581.90 C81.70,580.68 82.93,579.53 84.40,577.60 C85.87,575.67 87.47,573.10 88.80,570.30 C90.13,567.50 91.18,564.58 92.40,560.80 C93.62,557.02 94.88,551.73 96.10,547.60 C97.32,543.47 98.48,539.77 99.70,536.00 C100.92,532.23 102.05,528.30 103.40,525.00 C104.75,521.70 106.33,518.95 107.80,516.20 C109.27,513.45 110.50,510.43 112.20,508.50 C113.90,506.57 115.45,505.30 118.00,504.60 C120.55,503.90 125.92,504.35 127.50,504.30" fill="none" stroke="#111" stroke-width="1.25"/>
<path d="M56.00,589.70 C57.82,589.62 63.87,589.47 66.90,589.20 C69.93,588.93 71.52,588.82 74.20,588.10 C76.88,587.38 80.08,586.05 83.00,584.90 C85.92,583.75 89.52,581.75 91.70,581.20 C93.88,580.65 94.88,581.60 96.10,581.60 C97.32,581.60 97.78,581.02 99.00,581.20 C100.22,581.38 101.70,582.08 103.40,582.70 C105.10,583.32 107.25,584.05 109.20,584.90 C111.15,585.75 113.15,587.00 115.10,587.80 C117.05,588.60 118.83,589.33 120.90,589.70 C122.97,590.07 126.40,589.95 127.50,590.00" fill="none" stroke="#151515" stroke-width="1.2" stroke-dasharray="3.5,2.2"/>
<text x="3.75" y="505.60" font-size="16.5" text-anchor="start" font-weight="bold" >E</text>
<line x1="222.50" y1="503.90" x2="222.50" y2="587.40" stroke="#222222" stroke-width="1.1" />
<line x1="217.80" y1="587.40" x2="222.50" y2="587.40" stroke="#222222" stroke-width="1.1" />
<text x="214.70" y="591.80" font-size="11.4" text-anchor="end" font-weight="normal" >0</text>
<line x1="217.80" y1="573.48" x2="222.50" y2="573.48" stroke="#222222" stroke-width="1.1" />
<text x="214.70" y="577.88" font-size="11.4" text-anchor="end" font-weight="normal" >0.5</text>
<line x1="217.80" y1="559.57" x2="222.50" y2="559.57" stroke="#222222" stroke-width="1.1" />
<text x="214.70" y="563.97" font-size="11.4" text-anchor="end" font-weight="normal" >1</text>
<line x1="217.80" y1="545.65" x2="222.50" y2="545.65" stroke="#222222" stroke-width="1.1" />
<text x="214.70" y="550.05" font-size="11.4" text-anchor="end" font-weight="normal" >1.5</text>
<line x1="217.80" y1="531.73" x2="222.50" y2="531.73" stroke="#222222" stroke-width="1.1" />
<text x="214.70" y="536.13" font-size="11.4" text-anchor="end" font-weight="normal" >2</text>
<line x1="217.80" y1="517.82" x2="222.50" y2="517.82" stroke="#222222" stroke-width="1.1" />
<text x="214.70" y="522.22" font-size="11.4" text-anchor="end" font-weight="normal" >2.5</text>
<line x1="217.80" y1="503.90" x2="222.50" y2="503.90" stroke="#222222" stroke-width="1.1" />
<text x="214.70" y="508.30" font-size="11.4" text-anchor="end" font-weight="normal" >3</text>
<line x1="230.60" y1="590.60" x2="433.90" y2="590.60" stroke="#222222" stroke-width="1.1" />
<line x1="230.60" y1="590.60" x2="230.60" y2="593.20" stroke="#222222" stroke-width="1.1" />
<text x="230.60" y="604.70" font-size="11.4" text-anchor="middle" font-weight="normal" >1</text>
<line x1="271.26" y1="590.60" x2="271.26" y2="593.20" stroke="#222222" stroke-width="1.1" />
<text x="271.26" y="604.70" font-size="11.4" text-anchor="middle" font-weight="normal" >2</text>
<line x1="311.92" y1="590.60" x2="311.92" y2="593.20" stroke="#222222" stroke-width="1.1" />
<text x="311.92" y="604.70" font-size="11.4" text-anchor="middle" font-weight="normal" >3</text>
<line x1="352.58" y1="590.60" x2="352.58" y2="593.20" stroke="#222222" stroke-width="1.1" />
<text x="352.58" y="604.70" font-size="11.4" text-anchor="middle" font-weight="normal" >4</text>
<line x1="393.24" y1="590.60" x2="393.24" y2="593.20" stroke="#222222" stroke-width="1.1" />
<text x="393.24" y="604.70" font-size="11.4" text-anchor="middle" font-weight="normal" >5</text>
<line x1="433.90" y1="590.60" x2="433.90" y2="593.20" stroke="#222222" stroke-width="1.1" />
<text x="433.90" y="604.70" font-size="11.4" text-anchor="middle" font-weight="normal" >6</text>
<text x="0.00" y="0.00" font-size="11.2" text-anchor="middle" font-weight="normal" transform="translate(192.9,546.65) rotate(-90)">Relative frequency</text>
<path d="M230.60,564.58 L271.26,563.18 L311.92,563.18 L352.58,559.85 L393.24,564.58 L433.90,559.57" fill="none" stroke="#90cbec" stroke-width="1.25" stroke-linejoin="round" />
<path d="M230.60,570.98 L271.26,573.20 L311.92,563.46 L352.58,562.35 L393.24,560.40 L433.90,564.30" fill="none" stroke="#74c21a" stroke-width="1.25" stroke-linejoin="round" />
<path d="M230.60,552.61 L271.26,567.36 L311.92,562.07 L352.58,557.06 L393.24,557.06 L433.90,561.79" fill="none" stroke="#e43d37" stroke-width="1.25" stroke-linejoin="round" />
<path d="M230.60,552.61 L271.26,530.62 L311.92,549.82 L352.58,559.57 L393.24,557.62 L433.90,555.39" fill="none" stroke="#1e1e1e" stroke-width="1.25" stroke-linejoin="round" />
<line x1="454.30" y1="503.90" x2="454.30" y2="587.40" stroke="#222222" stroke-width="1.1" />
<line x1="449.80" y1="587.40" x2="454.30" y2="587.40" stroke="#222222" stroke-width="1.1" />
<line x1="449.80" y1="573.48" x2="454.30" y2="573.48" stroke="#222222" stroke-width="1.1" />
<line x1="449.80" y1="559.57" x2="454.30" y2="559.57" stroke="#222222" stroke-width="1.1" />
<line x1="449.80" y1="545.65" x2="454.30" y2="545.65" stroke="#222222" stroke-width="1.1" />
<line x1="449.80" y1="531.73" x2="454.30" y2="531.73" stroke="#222222" stroke-width="1.1" />
<line x1="449.80" y1="517.82" x2="454.30" y2="517.82" stroke="#222222" stroke-width="1.1" />
<line x1="449.80" y1="503.90" x2="454.30" y2="503.90" stroke="#222222" stroke-width="1.1" />
<line x1="462.40" y1="590.60" x2="665.40" y2="590.60" stroke="#222222" stroke-width="1.1" />
<line x1="462.40" y1="590.60" x2="462.40" y2="593.20" stroke="#222222" stroke-width="1.1" />
<text x="462.40" y="604.70" font-size="11.4" text-anchor="middle" font-weight="normal" >-6</text>
<line x1="503.00" y1="590.60" x2="503.00" y2="593.20" stroke="#222222" stroke-width="1.1" />
<text x="503.00" y="604.70" font-size="11.4" text-anchor="middle" font-weight="normal" >-5</text>
<line x1="543.60" y1="590.60" x2="543.60" y2="593.20" stroke="#222222" stroke-width="1.1" />
<text x="543.60" y="604.70" font-size="11.4" text-anchor="middle" font-weight="normal" >-4</text>
<line x1="584.20" y1="590.60" x2="584.20" y2="593.20" stroke="#222222" stroke-width="1.1" />
<text x="584.20" y="604.70" font-size="11.4" text-anchor="middle" font-weight="normal" >-3</text>
<line x1="624.80" y1="590.60" x2="624.80" y2="593.20" stroke="#222222" stroke-width="1.1" />
<text x="624.80" y="604.70" font-size="11.4" text-anchor="middle" font-weight="normal" >-2</text>
<line x1="665.40" y1="590.60" x2="665.40" y2="593.20" stroke="#222222" stroke-width="1.1" />
<text x="665.40" y="604.70" font-size="11.4" text-anchor="middle" font-weight="normal" >-1</text>
<path d="M462.40,565.41 L503.00,562.07 L543.60,560.12 L584.20,565.97 L624.80,557.90 L665.40,553.44" fill="none" stroke="#90cbec" stroke-width="1.25" stroke-linejoin="round" />
<path d="M462.40,559.01 L503.00,565.13 L543.60,566.52 L584.20,562.91 L624.80,565.41 L665.40,564.02" fill="none" stroke="#74c21a" stroke-width="1.25" stroke-linejoin="round" />
<path d="M462.40,557.90 L503.00,551.22 L543.60,554.56 L584.20,555.95 L624.80,562.07 L665.40,560.40" fill="none" stroke="#e43d37" stroke-width="1.25" stroke-linejoin="round" />
<path d="M462.40,556.78 L503.00,563.74 L543.60,561.79 L584.20,556.78 L624.80,557.62 L665.40,560.12" fill="none" stroke="#1e1e1e" stroke-width="1.25" stroke-linejoin="round" />
<text x="684.60" y="530.00" font-size="11" text-anchor="end" font-weight="bold" >NTTR</text>
<line x1="46.50" y1="624.10" x2="46.50" y2="708.70" stroke="#222222" stroke-width="1.1" />
<line x1="43.70" y1="708.20" x2="46.50" y2="708.20" stroke="#222222" stroke-width="1.1" />
<text x="42.00" y="712.70" font-size="11.4" text-anchor="end" font-weight="normal" >0</text>
<line x1="43.70" y1="691.48" x2="46.50" y2="691.48" stroke="#222222" stroke-width="1.1" />
<text x="42.00" y="695.98" font-size="11.4" text-anchor="end" font-weight="normal" >0.2</text>
<line x1="43.70" y1="674.76" x2="46.50" y2="674.76" stroke="#222222" stroke-width="1.1" />
<text x="42.00" y="679.26" font-size="11.4" text-anchor="end" font-weight="normal" >0.4</text>
<line x1="43.70" y1="658.04" x2="46.50" y2="658.04" stroke="#222222" stroke-width="1.1" />
<text x="42.00" y="662.54" font-size="11.4" text-anchor="end" font-weight="normal" >0.6</text>
<line x1="43.70" y1="641.32" x2="46.50" y2="641.32" stroke="#222222" stroke-width="1.1" />
<text x="42.00" y="645.82" font-size="11.4" text-anchor="end" font-weight="normal" >0.8</text>
<line x1="43.70" y1="624.60" x2="46.50" y2="624.60" stroke="#222222" stroke-width="1.1" />
<text x="42.00" y="629.10" font-size="11.4" text-anchor="end" font-weight="normal" >1.0</text>
<line x1="48.40" y1="711.00" x2="144.60" y2="711.00" stroke="#222222" stroke-width="1.1" />
<line x1="48.90" y1="711.00" x2="48.90" y2="713.80" stroke="#222222" stroke-width="1.1" />
<text x="54.70" y="726.40" font-size="11.4" text-anchor="end" font-weight="normal" >&#8211;10</text>
<line x1="72.70" y1="711.00" x2="72.70" y2="713.80" stroke="#222222" stroke-width="1.1" />
<text x="76.90" y="726.40" font-size="11.4" text-anchor="end" font-weight="normal" >&#8211;5</text>
<line x1="96.50" y1="711.00" x2="96.50" y2="713.80" stroke="#222222" stroke-width="1.1" />
<text x="96.50" y="726.40" font-size="11.4" text-anchor="middle" font-weight="normal" >0</text>
<line x1="120.30" y1="711.00" x2="120.30" y2="713.80" stroke="#222222" stroke-width="1.1" />
<text x="120.30" y="726.40" font-size="11.4" text-anchor="middle" font-weight="normal" >5</text>
<line x1="144.10" y1="711.00" x2="144.10" y2="713.80" stroke="#222222" stroke-width="1.1" />
<text x="144.90" y="726.40" font-size="11.4" text-anchor="middle" font-weight="normal" >10</text>
<text x="0.00" y="0.00" font-size="11.4" text-anchor="middle" font-weight="normal" transform="translate(19.2,666.40) rotate(-90)">Quantile</text>
<line x1="46.50" y1="666.40" x2="148.00" y2="666.40" stroke="#3a3a3a" stroke-width="1.0" />
<line x1="97.00" y1="620.90" x2="97.00" y2="711.00" stroke="#9a9a9a" stroke-width="1.5" />
<text x="70.00" y="650.00" font-size="11.4" text-anchor="middle" font-weight="normal" >2.89</text>
<text x="123.00" y="650.00" font-size="11.4" text-anchor="middle" font-weight="normal" >2.52</text>
<text x="69.80" y="690.80" font-size="11.4" text-anchor="middle" font-weight="normal" >3.21</text>
<path d="M46.50,707.30 C48.68,707.27 56.20,707.32 59.60,707.10 C63.00,706.88 64.72,706.50 66.90,706.00 C69.08,705.50 70.52,705.38 72.70,704.10 C74.88,702.82 77.80,700.48 80.00,698.30 C82.20,696.12 84.18,693.68 85.90,691.00 C87.62,688.32 88.97,684.88 90.30,682.20 C91.63,679.52 92.82,677.45 93.90,674.90 C94.98,672.35 95.70,669.82 96.80,666.90 C97.90,663.98 99.28,660.68 100.50,657.40 C101.72,654.12 102.88,650.37 104.10,647.20 C105.32,644.03 106.70,640.72 107.80,638.40 C108.90,636.08 109.25,635.00 110.70,633.30 C112.15,631.60 114.55,629.48 116.50,628.20 C118.45,626.92 120.45,626.20 122.40,625.60 C124.35,625.00 127.23,624.77 128.20,624.60" fill="none" stroke="#111" stroke-width="1.25"/>
<path d="M45.00,710.70 C47.43,710.63 55.70,710.47 59.60,710.30 C63.50,710.13 65.97,710.00 68.40,709.70 C70.83,709.40 72.02,709.07 74.20,708.50 C76.38,707.93 79.07,707.03 81.50,706.30 C83.93,705.57 86.62,704.65 88.80,704.10 C90.98,703.55 92.42,703.35 94.60,703.00 C96.78,702.65 99.70,701.93 101.90,702.00 C104.10,702.07 105.85,702.68 107.80,703.40 C109.75,704.12 111.65,705.33 113.60,706.30 C115.55,707.27 117.07,708.47 119.50,709.20 C121.93,709.93 126.75,710.45 128.20,710.70" fill="none" stroke="#151515" stroke-width="1.2" stroke-dasharray="3.5,2.2"/>
<text x="3.75" y="624.60" font-size="16.5" text-anchor="start" font-weight="bold" >F</text>
<line x1="222.50" y1="626.50" x2="222.50" y2="710.30" stroke="#222222" stroke-width="1.1" />
<line x1="217.80" y1="710.30" x2="222.50" y2="710.30" stroke="#222222" stroke-width="1.1" />
<text x="214.70" y="714.70" font-size="11.4" text-anchor="end" font-weight="normal" >0</text>
<line x1="217.80" y1="696.33" x2="222.50" y2="696.33" stroke="#222222" stroke-width="1.1" />
<text x="214.70" y="700.73" font-size="11.4" text-anchor="end" font-weight="normal" >0.5</text>
<line x1="217.80" y1="682.37" x2="222.50" y2="682.37" stroke="#222222" stroke-width="1.1" />
<text x="214.70" y="686.77" font-size="11.4" text-anchor="end" font-weight="normal" >1</text>
<line x1="217.80" y1="668.40" x2="222.50" y2="668.40" stroke="#222222" stroke-width="1.1" />
<text x="214.70" y="672.80" font-size="11.4" text-anchor="end" font-weight="normal" >1.5</text>
<line x1="217.80" y1="654.43" x2="222.50" y2="654.43" stroke="#222222" stroke-width="1.1" />
<text x="214.70" y="658.83" font-size="11.4" text-anchor="end" font-weight="normal" >2</text>
<line x1="217.80" y1="640.47" x2="222.50" y2="640.47" stroke="#222222" stroke-width="1.1" />
<text x="214.70" y="644.87" font-size="11.4" text-anchor="end" font-weight="normal" >2.5</text>
<line x1="217.80" y1="626.50" x2="222.50" y2="626.50" stroke="#222222" stroke-width="1.1" />
<text x="214.70" y="630.90" font-size="11.4" text-anchor="end" font-weight="normal" >3</text>
<line x1="230.60" y1="713.30" x2="433.90" y2="713.30" stroke="#222222" stroke-width="1.1" />
<line x1="230.60" y1="713.30" x2="230.60" y2="715.90" stroke="#222222" stroke-width="1.1" />
<text x="230.60" y="727.40" font-size="11.4" text-anchor="middle" font-weight="normal" >1</text>
<line x1="271.26" y1="713.30" x2="271.26" y2="715.90" stroke="#222222" stroke-width="1.1" />
<text x="271.26" y="727.40" font-size="11.4" text-anchor="middle" font-weight="normal" >2</text>
<line x1="311.92" y1="713.30" x2="311.92" y2="715.90" stroke="#222222" stroke-width="1.1" />
<text x="311.92" y="727.40" font-size="11.4" text-anchor="middle" font-weight="normal" >3</text>
<line x1="352.58" y1="713.30" x2="352.58" y2="715.90" stroke="#222222" stroke-width="1.1" />
<text x="352.58" y="727.40" font-size="11.4" text-anchor="middle" font-weight="normal" >4</text>
<line x1="393.24" y1="713.30" x2="393.24" y2="715.90" stroke="#222222" stroke-width="1.1" />
<text x="393.24" y="727.40" font-size="11.4" text-anchor="middle" font-weight="normal" >5</text>
<line x1="433.90" y1="713.30" x2="433.90" y2="715.90" stroke="#222222" stroke-width="1.1" />
<text x="433.90" y="727.40" font-size="11.4" text-anchor="middle" font-weight="normal" >6</text>
<text x="0.00" y="0.00" font-size="11.2" text-anchor="middle" font-weight="normal" transform="translate(192.9,669.40) rotate(-90)">Relative frequency</text>
<path d="M230.60,691.03 L271.26,687.12 L311.92,689.35 L352.58,688.79 L393.24,687.12 L433.90,681.81" fill="none" stroke="#90cbec" stroke-width="1.25" stroke-linejoin="round" />
<path d="M230.60,697.17 L271.26,695.50 L311.92,691.03 L352.58,684.04 L393.24,683.76 L433.90,688.79" fill="none" stroke="#74c21a" stroke-width="1.25" stroke-linejoin="round" />
<path d="M230.60,672.31 L271.26,698.29 L311.92,689.91 L352.58,675.94 L393.24,680.41 L433.90,683.76" fill="none" stroke="#e43d37" stroke-width="1.25" stroke-linejoin="round" />
<path d="M230.60,672.31 L271.26,646.05 L311.92,655.27 L352.58,680.97 L393.24,679.57 L433.90,676.50" fill="none" stroke="#1e1e1e" stroke-width="1.25" stroke-linejoin="round" />
<line x1="454.30" y1="626.50" x2="454.30" y2="710.30" stroke="#222222" stroke-width="1.1" />
<line x1="449.80" y1="710.30" x2="454.30" y2="710.30" stroke="#222222" stroke-width="1.1" />
<line x1="449.80" y1="696.33" x2="454.30" y2="696.33" stroke="#222222" stroke-width="1.1" />
<line x1="449.80" y1="682.37" x2="454.30" y2="682.37" stroke="#222222" stroke-width="1.1" />
<line x1="449.80" y1="668.40" x2="454.30" y2="668.40" stroke="#222222" stroke-width="1.1" />
<line x1="449.80" y1="654.43" x2="454.30" y2="654.43" stroke="#222222" stroke-width="1.1" />
<line x1="449.80" y1="640.47" x2="454.30" y2="640.47" stroke="#222222" stroke-width="1.1" />
<line x1="449.80" y1="626.50" x2="454.30" y2="626.50" stroke="#222222" stroke-width="1.1" />
<line x1="462.40" y1="713.30" x2="665.40" y2="713.30" stroke="#222222" stroke-width="1.1" />
<line x1="462.40" y1="713.30" x2="462.40" y2="715.90" stroke="#222222" stroke-width="1.1" />
<text x="462.40" y="727.40" font-size="11.4" text-anchor="middle" font-weight="normal" >-6</text>
<line x1="503.00" y1="713.30" x2="503.00" y2="715.90" stroke="#222222" stroke-width="1.1" />
<text x="503.00" y="727.40" font-size="11.4" text-anchor="middle" font-weight="normal" >-5</text>
<line x1="543.60" y1="713.30" x2="543.60" y2="715.90" stroke="#222222" stroke-width="1.1" />
<text x="543.60" y="727.40" font-size="11.4" text-anchor="middle" font-weight="normal" >-4</text>
<line x1="584.20" y1="713.30" x2="584.20" y2="715.90" stroke="#222222" stroke-width="1.1" />
<text x="584.20" y="727.40" font-size="11.4" text-anchor="middle" font-weight="normal" >-3</text>
<line x1="624.80" y1="713.30" x2="624.80" y2="715.90" stroke="#222222" stroke-width="1.1" />
<text x="624.80" y="727.40" font-size="11.4" text-anchor="middle" font-weight="normal" >-2</text>
<line x1="665.40" y1="713.30" x2="665.40" y2="715.90" stroke="#222222" stroke-width="1.1" />
<text x="665.40" y="727.40" font-size="11.4" text-anchor="middle" font-weight="normal" >-1</text>
<path d="M462.40,691.58 L503.00,682.37 L543.60,682.37 L584.20,684.32 L624.80,687.39 L665.40,680.97" fill="none" stroke="#90cbec" stroke-width="1.25" stroke-linejoin="round" />
<path d="M462.40,682.37 L503.00,685.72 L543.60,691.58 L584.20,678.74 L624.80,675.66 L665.40,686.56" fill="none" stroke="#74c21a" stroke-width="1.25" stroke-linejoin="round" />
<path d="M462.40,675.66 L503.00,679.85 L543.60,675.66 L584.20,683.76 L624.80,690.75 L665.40,706.11" fill="none" stroke="#e43d37" stroke-width="1.25" stroke-linejoin="round" />
<path d="M462.40,680.69 L503.00,681.81 L543.60,684.32 L584.20,679.85 L624.80,676.22 L665.40,637.39" fill="none" stroke="#1e1e1e" stroke-width="1.25" stroke-linejoin="round" />
<text x="684.60" y="667.60" font-size="11" text-anchor="end" font-weight="bold" >NTT/6N</text>
<line x1="46.50" y1="744.00" x2="46.50" y2="831.90" stroke="#222222" stroke-width="1.1" />
<line x1="43.70" y1="831.40" x2="46.50" y2="831.40" stroke="#222222" stroke-width="1.1" />
<text x="42.00" y="835.90" font-size="11.4" text-anchor="end" font-weight="normal" >0</text>
<line x1="43.70" y1="814.02" x2="46.50" y2="814.02" stroke="#222222" stroke-width="1.1" />
<text x="42.00" y="818.52" font-size="11.4" text-anchor="end" font-weight="normal" >0.2</text>
<line x1="43.70" y1="796.64" x2="46.50" y2="796.64" stroke="#222222" stroke-width="1.1" />
<text x="42.00" y="801.14" font-size="11.4" text-anchor="end" font-weight="normal" >0.4</text>
<line x1="43.70" y1="779.26" x2="46.50" y2="779.26" stroke="#222222" stroke-width="1.1" />
<text x="42.00" y="783.76" font-size="11.4" text-anchor="end" font-weight="normal" >0.6</text>
<line x1="43.70" y1="761.88" x2="46.50" y2="761.88" stroke="#222222" stroke-width="1.1" />
<text x="42.00" y="766.38" font-size="11.4" text-anchor="end" font-weight="normal" >0.8</text>
<line x1="43.70" y1="744.50" x2="46.50" y2="744.50" stroke="#222222" stroke-width="1.1" />
<text x="42.00" y="749.00" font-size="11.4" text-anchor="end" font-weight="normal" >1.0</text>
<line x1="48.40" y1="834.80" x2="144.60" y2="834.80" stroke="#222222" stroke-width="1.1" />
<line x1="48.90" y1="834.80" x2="48.90" y2="837.60" stroke="#222222" stroke-width="1.1" />
<text x="54.70" y="850.20" font-size="11.4" text-anchor="end" font-weight="normal" >&#8211;10</text>
<line x1="72.70" y1="834.80" x2="72.70" y2="837.60" stroke="#222222" stroke-width="1.1" />
<text x="76.90" y="850.20" font-size="11.4" text-anchor="end" font-weight="normal" >&#8211;5</text>
<line x1="96.50" y1="834.80" x2="96.50" y2="837.60" stroke="#222222" stroke-width="1.1" />
<text x="96.50" y="850.20" font-size="11.4" text-anchor="middle" font-weight="normal" >0</text>
<line x1="120.30" y1="834.80" x2="120.30" y2="837.60" stroke="#222222" stroke-width="1.1" />
<text x="120.30" y="850.20" font-size="11.4" text-anchor="middle" font-weight="normal" >5</text>
<line x1="144.10" y1="834.80" x2="144.10" y2="837.60" stroke="#222222" stroke-width="1.1" />
<text x="144.90" y="850.20" font-size="11.4" text-anchor="middle" font-weight="normal" >10</text>
<text x="0.00" y="0.00" font-size="11.4" text-anchor="middle" font-weight="normal" transform="translate(19.2,787.95) rotate(-90)">Quantile</text>
<line x1="46.50" y1="788.00" x2="148.00" y2="788.00" stroke="#9a9a9a" stroke-width="1.5" />
<line x1="97.00" y1="741.50" x2="97.00" y2="834.80" stroke="#9a9a9a" stroke-width="1.5" />
<text x="70.50" y="771.90" font-size="11.4" text-anchor="middle" font-weight="normal" >1.17</text>
<text x="123.10" y="771.90" font-size="11.4" text-anchor="middle" font-weight="normal" >1.04</text>
<text x="70.10" y="811.10" font-size="11.4" text-anchor="middle" font-weight="normal" >1.30</text>
<path d="M68.40,831.50 C69.62,831.28 73.63,830.73 75.70,830.20 C77.77,829.67 79.35,829.10 80.80,828.30 C82.25,827.50 83.18,826.85 84.40,825.40 C85.62,823.95 87.00,821.78 88.10,819.60 C89.20,817.42 90.03,815.10 91.00,812.30 C91.97,809.50 93.05,806.08 93.90,802.80 C94.75,799.52 95.37,796.02 96.10,792.60 C96.83,789.18 97.57,785.72 98.30,782.30 C99.03,778.88 99.77,775.50 100.50,772.10 C101.23,768.70 101.97,764.82 102.70,761.90 C103.43,758.98 104.05,756.78 104.90,754.60 C105.75,752.42 106.58,750.32 107.80,748.80 C109.02,747.28 110.67,746.18 112.20,745.50 C113.73,744.82 116.20,744.83 117.00,744.70" fill="none" stroke="#111" stroke-width="1.25"/>
<path d="M69.80,834.90 C71.02,834.78 74.90,834.68 77.10,834.20 C79.30,833.72 81.05,832.85 83.00,832.00 C84.95,831.15 87.10,829.95 88.80,829.10 C90.50,828.25 91.87,827.52 93.20,826.90 C94.53,826.28 95.72,825.53 96.80,825.40 C97.88,825.27 98.60,825.62 99.70,826.10 C100.80,826.58 102.05,827.45 103.40,828.30 C104.75,829.15 106.33,830.35 107.80,831.20 C109.27,832.05 110.75,832.83 112.20,833.40 C113.65,833.97 115.78,834.40 116.50,834.60" fill="none" stroke="#151515" stroke-width="1.2" stroke-dasharray="3.5,2.2"/>
<text x="5.10" y="746.20" font-size="16.5" text-anchor="start" font-weight="bold" >G</text>
<line x1="222.50" y1="746.90" x2="222.50" y2="830.40" stroke="#222222" stroke-width="1.1" />
<line x1="217.80" y1="830.40" x2="222.50" y2="830.40" stroke="#222222" stroke-width="1.1" />
<text x="214.70" y="834.80" font-size="11.4" text-anchor="end" font-weight="normal" >0</text>
<line x1="217.80" y1="816.48" x2="222.50" y2="816.48" stroke="#222222" stroke-width="1.1" />
<text x="214.70" y="820.88" font-size="11.4" text-anchor="end" font-weight="normal" >0.5</text>
<line x1="217.80" y1="802.57" x2="222.50" y2="802.57" stroke="#222222" stroke-width="1.1" />
<text x="214.70" y="806.97" font-size="11.4" text-anchor="end" font-weight="normal" >1</text>
<line x1="217.80" y1="788.65" x2="222.50" y2="788.65" stroke="#222222" stroke-width="1.1" />
<text x="214.70" y="793.05" font-size="11.4" text-anchor="end" font-weight="normal" >1.5</text>
<line x1="217.80" y1="774.73" x2="222.50" y2="774.73" stroke="#222222" stroke-width="1.1" />
<text x="214.70" y="779.13" font-size="11.4" text-anchor="end" font-weight="normal" >2</text>
<line x1="217.80" y1="760.82" x2="222.50" y2="760.82" stroke="#222222" stroke-width="1.1" />
<text x="214.70" y="765.22" font-size="11.4" text-anchor="end" font-weight="normal" >2.5</text>
<line x1="217.80" y1="746.90" x2="222.50" y2="746.90" stroke="#222222" stroke-width="1.1" />
<text x="214.70" y="751.30" font-size="11.4" text-anchor="end" font-weight="normal" >3</text>
<line x1="230.60" y1="834.00" x2="433.90" y2="834.00" stroke="#222222" stroke-width="1.1" />
<line x1="230.60" y1="834.00" x2="230.60" y2="836.60" stroke="#222222" stroke-width="1.1" />
<text x="230.60" y="848.10" font-size="11.4" text-anchor="middle" font-weight="normal" >1</text>
<line x1="271.26" y1="834.00" x2="271.26" y2="836.60" stroke="#222222" stroke-width="1.1" />
<text x="271.26" y="848.10" font-size="11.4" text-anchor="middle" font-weight="normal" >2</text>
<line x1="311.92" y1="834.00" x2="311.92" y2="836.60" stroke="#222222" stroke-width="1.1" />
<text x="311.92" y="848.10" font-size="11.4" text-anchor="middle" font-weight="normal" >3</text>
<line x1="352.58" y1="834.00" x2="352.58" y2="836.60" stroke="#222222" stroke-width="1.1" />
<text x="352.58" y="848.10" font-size="11.4" text-anchor="middle" font-weight="normal" >4</text>
<line x1="393.24" y1="834.00" x2="393.24" y2="836.60" stroke="#222222" stroke-width="1.1" />
<text x="393.24" y="848.10" font-size="11.4" text-anchor="middle" font-weight="normal" >5</text>
<line x1="433.90" y1="834.00" x2="433.90" y2="836.60" stroke="#222222" stroke-width="1.1" />
<text x="433.90" y="848.10" font-size="11.4" text-anchor="middle" font-weight="normal" >6</text>
<text x="0.00" y="0.00" font-size="11.2" text-anchor="middle" font-weight="normal" transform="translate(192.9,789.65) rotate(-90)">Relative frequency</text>
<path d="M230.60,803.68 L271.26,802.85 L311.92,802.85 L352.58,804.51 L393.24,802.57 L433.90,801.45" fill="none" stroke="#90cbec" stroke-width="1.25" stroke-linejoin="round" />
<path d="M230.60,803.40 L271.26,803.12 L311.92,803.68 L352.58,805.91 L393.24,807.02 L433.90,805.63" fill="none" stroke="#74c21a" stroke-width="1.25" stroke-linejoin="round" />
<path d="M230.60,802.01 L271.26,803.12 L311.92,801.73 L352.58,803.12 L393.24,799.23 L433.90,801.45" fill="none" stroke="#e43d37" stroke-width="1.25" stroke-linejoin="round" />
<path d="M230.60,802.01 L271.26,800.90 L311.92,801.17 L352.58,798.39 L393.24,801.45 L433.90,801.17" fill="none" stroke="#1e1e1e" stroke-width="1.25" stroke-linejoin="round" />
<line x1="454.30" y1="746.90" x2="454.30" y2="830.40" stroke="#222222" stroke-width="1.1" />
<line x1="449.80" y1="830.40" x2="454.30" y2="830.40" stroke="#222222" stroke-width="1.1" />
<line x1="449.80" y1="816.48" x2="454.30" y2="816.48" stroke="#222222" stroke-width="1.1" />
<line x1="449.80" y1="802.57" x2="454.30" y2="802.57" stroke="#222222" stroke-width="1.1" />
<line x1="449.80" y1="788.65" x2="454.30" y2="788.65" stroke="#222222" stroke-width="1.1" />
<line x1="449.80" y1="774.73" x2="454.30" y2="774.73" stroke="#222222" stroke-width="1.1" />
<line x1="449.80" y1="760.82" x2="454.30" y2="760.82" stroke="#222222" stroke-width="1.1" />
<line x1="449.80" y1="746.90" x2="454.30" y2="746.90" stroke="#222222" stroke-width="1.1" />
<line x1="462.40" y1="834.00" x2="665.40" y2="834.00" stroke="#222222" stroke-width="1.1" />
<line x1="462.40" y1="834.00" x2="462.40" y2="836.60" stroke="#222222" stroke-width="1.1" />
<text x="462.40" y="848.10" font-size="11.4" text-anchor="middle" font-weight="normal" >-6</text>
<line x1="503.00" y1="834.00" x2="503.00" y2="836.60" stroke="#222222" stroke-width="1.1" />
<text x="503.00" y="848.10" font-size="11.4" text-anchor="middle" font-weight="normal" >-5</text>
<line x1="543.60" y1="834.00" x2="543.60" y2="836.60" stroke="#222222" stroke-width="1.1" />
<text x="543.60" y="848.10" font-size="11.4" text-anchor="middle" font-weight="normal" >-4</text>
<line x1="584.20" y1="834.00" x2="584.20" y2="836.60" stroke="#222222" stroke-width="1.1" />
<text x="584.20" y="848.10" font-size="11.4" text-anchor="middle" font-weight="normal" >-3</text>
<line x1="624.80" y1="834.00" x2="624.80" y2="836.60" stroke="#222222" stroke-width="1.1" />
<text x="624.80" y="848.10" font-size="11.4" text-anchor="middle" font-weight="normal" >-2</text>
<line x1="665.40" y1="834.00" x2="665.40" y2="836.60" stroke="#222222" stroke-width="1.1" />
<text x="665.40" y="848.10" font-size="11.4" text-anchor="middle" font-weight="normal" >-1</text>
<path d="M462.40,806.18 L503.00,804.79 L543.60,802.57 L584.20,803.68 L624.80,799.78 L665.40,802.57" fill="none" stroke="#90cbec" stroke-width="1.25" stroke-linejoin="round" />
<path d="M462.40,803.40 L503.00,805.35 L543.60,808.13 L584.20,804.24 L624.80,804.51 L665.40,804.24" fill="none" stroke="#74c21a" stroke-width="1.25" stroke-linejoin="round" />
<path d="M462.40,799.50 L503.00,796.16 L543.60,798.39 L584.20,800.06 L624.80,805.35 L665.40,802.57" fill="none" stroke="#e43d37" stroke-width="1.25" stroke-linejoin="round" />
<path d="M462.40,801.45 L503.00,806.46 L543.60,803.68 L584.20,802.85 L624.80,800.62 L665.40,801.73" fill="none" stroke="#1e1e1e" stroke-width="1.25" stroke-linejoin="round" />
<text x="684.60" y="782.20" font-size="11" text-anchor="end" font-weight="bold" >NTTc</text>
<text x="96.70" y="9.90" font-size="11.4" text-anchor="middle" font-weight="normal" >ECDF</text>
<text x="325.60" y="10.20" font-size="11.4" text-anchor="middle" font-weight="normal" >5&#8217; RNA</text>
<text x="557.30" y="10.20" font-size="11.4" text-anchor="middle" font-weight="normal" >3&#8217; RNA</text>
<line x1="392.00" y1="28.30" x2="406.80" y2="28.30" stroke="#74c21a" stroke-width="1.5" />
<text x="412.30" y="32.10" font-size="11.4" text-anchor="start" font-weight="normal" >A</text>
<line x1="392.00" y1="39.50" x2="406.80" y2="39.50" stroke="#90cbec" stroke-width="1.5" />
<text x="412.30" y="43.30" font-size="11.4" text-anchor="start" font-weight="normal" >C</text>
<line x1="392.00" y1="52.10" x2="406.80" y2="52.10" stroke="#1e1e1e" stroke-width="1.5" />
<text x="412.30" y="55.90" font-size="11.4" text-anchor="start" font-weight="normal" >G</text>
<line x1="392.00" y1="64.80" x2="406.80" y2="64.80" stroke="#e43d37" stroke-width="1.5" />
<text x="412.30" y="68.60" font-size="11.4" text-anchor="start" font-weight="normal" >U</text>
<text x="325.60" y="863.70" font-size="11.4" text-anchor="middle" font-weight="normal" >Position</text>
<text x="557.30" y="863.70" font-size="11.4" text-anchor="middle" font-weight="normal" >Position</text>
<text x="35.60" y="862.30" font-size="11.4" text-anchor="start" font-weight="normal" >log<tspan font-size="7.5" dy="2.8">2</tspan><tspan dy="-2.8">(Normalized counts)</tspan></text>
</svg></body></html>
